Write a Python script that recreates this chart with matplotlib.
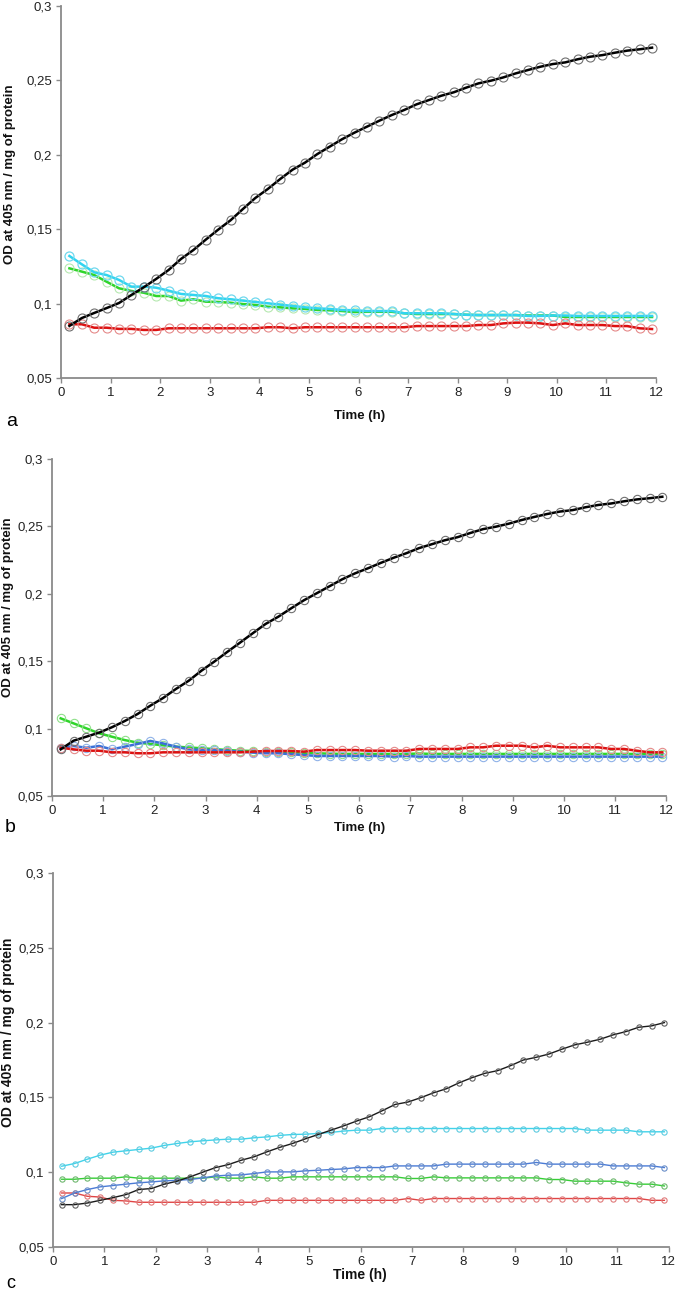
import matplotlib
matplotlib.use("Agg")
import matplotlib.pyplot as plt
from matplotlib import font_manager
import numpy as np

# ---------------- data ----------------
time_h = [0.17 + 0.25 * k for k in range(48)]

# panel a
a_black = [0.085, 0.0903, 0.0937, 0.097, 0.1004, 0.1058, 0.111, 0.1166, 0.1226, 0.130,
           0.136, 0.143, 0.1497, 0.156, 0.1636, 0.171, 0.177, 0.1837, 0.190, 0.1947,
           0.2005, 0.2055, 0.2105, 0.2149,
           0.2189, 0.2229, 0.2267, 0.2301, 0.2339, 0.2368, 0.2397, 0.242, 0.2451, 0.248,
           0.2498, 0.252, 0.2547, 0.257, 0.2592, 0.261, 0.2621, 0.2642, 0.2659, 0.267,
           0.2686, 0.27, 0.2709, 0.272]
a_cyan = [0.132, 0.1264, 0.121, 0.1192, 0.1159, 0.1114, 0.1114, 0.1107, 0.1087, 0.1065,
          0.1058, 0.1051, 0.1036, 0.1029, 0.102, 0.1011, 0.1002, 0.0993, 0.0984, 0.0975,
          0.0968, 0.0964, 0.0957, 0.0955,
          0.095, 0.095, 0.095, 0.0935, 0.0935, 0.0935, 0.0935, 0.093, 0.0925, 0.0923,
          0.0923, 0.0923, 0.0923, 0.0917, 0.0917, 0.092, 0.092, 0.0917, 0.0917, 0.0917,
          0.0917, 0.0917, 0.0917, 0.0917]
a_green = [0.1237, 0.1215, 0.1192, 0.1147, 0.1103, 0.1085, 0.1073, 0.1051, 0.1051, 0.102,
           0.1029, 0.1013, 0.1011, 0.1006, 0.0997, 0.0991, 0.0979, 0.0975, 0.0968, 0.0964,
           0.0957, 0.0955, 0.095, 0.0943,
           0.0945, 0.0945, 0.0945, 0.0935, 0.093, 0.093, 0.093, 0.093, 0.0925, 0.0923,
           0.0923, 0.0923, 0.0923, 0.092, 0.092, 0.092, 0.091, 0.091, 0.091, 0.091,
           0.091, 0.091, 0.091, 0.091]
a_red = [0.0861, 0.0861, 0.0838, 0.0838, 0.083, 0.083, 0.0823, 0.0823, 0.0834, 0.0834,
         0.0834, 0.0834, 0.0834, 0.0834, 0.0834, 0.0834, 0.0841, 0.0841, 0.0834, 0.0841,
         0.0841, 0.0841, 0.0841, 0.0841,
         0.0841, 0.0841, 0.0841, 0.0841, 0.0849, 0.0849, 0.0849, 0.0849, 0.0849, 0.0856,
         0.0856, 0.0867, 0.0872, 0.0872, 0.0867, 0.0856, 0.0867, 0.0856, 0.0856, 0.0856,
         0.0849, 0.0849, 0.0834, 0.0829]

# panel b
b_black = [0.0846, 0.091, 0.094, 0.097, 0.101, 0.1056, 0.1108, 0.117, 0.1227, 0.1294,
           0.1355, 0.143, 0.1497, 0.1568, 0.1637, 0.1707, 0.1776, 0.183, 0.1892, 0.1952,
           0.2004, 0.2056, 0.2108, 0.2152,
           0.2189, 0.2229, 0.2267, 0.2301, 0.2339, 0.2368, 0.2397, 0.242, 0.2451, 0.248,
           0.2498, 0.252, 0.2547, 0.257, 0.2592, 0.261, 0.2621, 0.2642, 0.2659, 0.267,
           0.2686, 0.27, 0.2709, 0.272]
b_green = [0.1076, 0.1039, 0.1002, 0.0965, 0.094, 0.0915, 0.0896, 0.0886, 0.0876, 0.0866,
           0.086, 0.0854, 0.0848, 0.0841, 0.0836, 0.0834, 0.0829, 0.0826, 0.0824, 0.0821,
           0.0817, 0.0814, 0.0812, 0.0812,
           0.0812, 0.0812, 0.0812, 0.0812, 0.0815, 0.0812, 0.0812, 0.0812, 0.0812, 0.0812,
           0.0812, 0.0812, 0.0812, 0.0812, 0.0812, 0.0812, 0.0812, 0.0812, 0.0812, 0.0812,
           0.0812, 0.0812, 0.0812, 0.081]
b_blue = [0.0858, 0.0871, 0.0858, 0.0871, 0.0846, 0.0866, 0.0886, 0.0908, 0.089, 0.0866,
          0.0846, 0.0841, 0.0841, 0.0836, 0.0829, 0.0822, 0.0817, 0.0817, 0.081, 0.0804,
          0.0797, 0.0797, 0.0797, 0.0797,
          0.0797, 0.0797, 0.0792, 0.0797, 0.0792, 0.0792, 0.0792, 0.0792, 0.0792, 0.0792,
          0.0792, 0.0792, 0.0792, 0.0792, 0.0792, 0.0792, 0.0792, 0.0792, 0.0792, 0.0792,
          0.0792, 0.0792, 0.0792, 0.0792]
b_red = [0.0858, 0.0846, 0.0836, 0.0836, 0.0824, 0.0824, 0.0817, 0.0817, 0.0824, 0.0824,
         0.0824, 0.0824, 0.0824, 0.0824, 0.0824, 0.0829, 0.0834, 0.0834, 0.0834, 0.0829,
         0.0841, 0.0841, 0.0841, 0.0841,
         0.0836, 0.0836, 0.0836, 0.0836, 0.0849, 0.0849, 0.0849, 0.0849, 0.0861, 0.0861,
         0.0873, 0.0873, 0.0873, 0.0861, 0.0873, 0.0861, 0.0861, 0.0861, 0.0861, 0.0849,
         0.0849, 0.0836, 0.0824, 0.0824]

# panel c
c_cyan = [0.104, 0.1058, 0.1087, 0.1114, 0.1134, 0.1143, 0.1152, 0.1161, 0.1179, 0.1192,
          0.1203, 0.121, 0.1216, 0.1221, 0.1221, 0.123, 0.1236, 0.1246, 0.1252, 0.1254,
          0.1259, 0.1266, 0.1275, 0.1281,
          0.1281, 0.1292, 0.1292, 0.1292, 0.1292, 0.1292, 0.1292, 0.1292, 0.1292, 0.1292,
          0.1292, 0.1292, 0.1292, 0.1292, 0.1292, 0.1292, 0.1292, 0.1281, 0.1281, 0.1281,
          0.1281, 0.127, 0.127, 0.127]
c_blue = [0.0824, 0.0861, 0.0884, 0.0902, 0.0911, 0.092, 0.0929, 0.0935, 0.0942, 0.0946,
          0.0951, 0.0962, 0.0975, 0.098, 0.0982, 0.0991, 0.1002, 0.1002, 0.1002, 0.1009,
          0.1013, 0.1018, 0.1022, 0.1031,
          0.1031, 0.1031, 0.1042, 0.1042, 0.1042, 0.1042, 0.1054, 0.1054, 0.1054, 0.1054,
          0.1054, 0.1054, 0.1054, 0.1065, 0.1054, 0.1054, 0.1054, 0.1054, 0.1054, 0.1042,
          0.1042, 0.1042, 0.1042, 0.1031]
c_green = [0.0953, 0.0953, 0.096, 0.096, 0.096, 0.0969, 0.096, 0.096, 0.096, 0.096,
           0.096, 0.096, 0.0969, 0.096, 0.096, 0.0969, 0.096, 0.096, 0.0969, 0.0969,
           0.0969, 0.0969, 0.0969, 0.0969,
           0.0969, 0.0969, 0.0969, 0.0958, 0.0958, 0.0969, 0.0962, 0.0962, 0.0962, 0.0962,
           0.0962, 0.0962, 0.0962, 0.0962, 0.0951, 0.0951, 0.094, 0.094, 0.094, 0.094,
           0.0929, 0.092, 0.092, 0.0908]
c_red = [0.0861, 0.0861, 0.0839, 0.0834, 0.0812, 0.0808, 0.0799, 0.0799, 0.0799, 0.0799,
         0.0799, 0.0799, 0.0799, 0.0799, 0.0799, 0.0799, 0.0812, 0.0812, 0.0812, 0.0812,
         0.0812, 0.0812, 0.0812, 0.0812,
         0.0812, 0.0812, 0.0812, 0.0824, 0.0812, 0.0824, 0.0824, 0.0824, 0.0824, 0.0824,
         0.0824, 0.0824, 0.0824, 0.0824, 0.0824, 0.0824, 0.0824, 0.0824, 0.0824, 0.0824,
         0.0824, 0.0824, 0.0812, 0.0812]
c_black = [0.0783, 0.0783, 0.0794, 0.0812, 0.083, 0.085, 0.0884, 0.0891, 0.092, 0.094,
           0.0969, 0.1, 0.1031, 0.1051, 0.108, 0.1103, 0.1136, 0.1166, 0.1192, 0.1223,
           0.1252, 0.1281, 0.131, 0.1342,
           0.1371, 0.1411, 0.1453, 0.1469, 0.1498, 0.1531, 0.1558, 0.1598, 0.1632, 0.1661,
           0.1679, 0.1712, 0.175, 0.1768, 0.179, 0.1822, 0.1851, 0.1869, 0.1889, 0.1918,
           0.194, 0.1969, 0.1978, 0.2]

y_ticks = [0.05, 0.1, 0.15, 0.2, 0.25, 0.3]
y_tick_labels = ["0,05", "0,1", "0,15", "0,2", "0,25", "0,3"]
x_ticks = list(range(13))
y_label = "OD at 405 nm / mg of protein"
x_label = "Time (h)"
panel_letters = ["a", "b", "c"]

# ---------------- styling ----------------
names = {f.name for f in font_manager.fontManager.ttflist}
FONT = "Liberation Sans" if "Liberation Sans" in names else "DejaVu Sans"
NARROW = "Liberation Sans Narrow" if "Liberation Sans Narrow" in names else FONT
plt.rcParams["font.family"] = [FONT, "DejaVu Sans"]

W, H = 675, 1290
fig = plt.figure(figsize=(W / 100, H / 100), dpi=100)
fig.patch.set_facecolor("white")

def px_axes(left, right, top, bottom):
    return fig.add_axes([left / W, 1 - bottom / H, (right - left) / W, (bottom - top) / H])

SPINE = "#8a8a8a"

def style_axes(ax, font, fs):
    for s in ["top", "right"]:
        ax.spines[s].set_visible(False)
    for s in ["left", "bottom"]:
        ax.spines[s].set_color(SPINE)
        ax.spines[s].set_linewidth(1.3)
    ax.set_xlim(0, 12)
    ax.set_ylim(0.05, 0.3)
    ax.set_xticks(x_ticks)
    ax.set_xticklabels([str(t) for t in x_ticks], fontfamily=font, fontsize=fs)
    ax.set_yticks(y_ticks)
    ax.set_yticklabels(y_tick_labels, fontfamily=font, fontsize=fs)
    ax.tick_params(direction="out", length=3.5, width=1.0, color=SPINE,
                   labelcolor="#222222", pad=3)
    ax.patch.set_alpha(0)

def series(ax, y, color, mec, lw, ms, mew, z):
    ax.plot(time_h, y, color=color, lw=lw, marker="o", ms=ms, mfc="none",
            mec=mec, mew=mew, zorder=z, clip_on=False)

# panel a
ax_a = px_axes(61, 656, 6, 378)
style_axes(ax_a, FONT, 9.5)
series(ax_a, a_green, "#2fd52a", "#b6e8b0", 1.8, 6.5, 0.8, 3)
series(ax_a, a_cyan, "#30d4f0", "#6fd8ee", 1.8, 6.5, 0.9, 4)
series(ax_a, a_red, "#dd1010", "#e58a8a", 1.8, 6.5, 0.8, 5)
series(ax_a, a_black, "#000000", "#707070", 1.8, 6.5, 0.8, 6)

# panel b
ax_b = px_axes(52, 666.4, 459, 796)
style_axes(ax_b, FONT, 9.5)
series(ax_b, b_green, "#2fd52a", "#8fe08a", 1.8, 6.0, 0.8, 3)
series(ax_b, b_blue, "#3a6fd6", "#8fb2e8", 1.8, 6.0, 0.8, 4)
series(ax_b, b_red, "#dd1010", "#e58a8a", 1.8, 6.0, 0.8, 5)
series(ax_b, b_black, "#000000", "#707070", 1.8, 6.0, 0.8, 6)

# panel c
ax_c = px_axes(53, 668.5, 873, 1247)
style_axes(ax_c, NARROW, 9.5)
series(ax_c, c_red, "#e04545", "#e07a7a", 1.0, 3.8, 0.8, 3)
series(ax_c, c_green, "#35cf35", "#6fb86f", 1.0, 3.8, 0.8, 4)
series(ax_c, c_blue, "#4a7bd6", "#6a8ec8", 1.0, 3.8, 0.8, 5)
series(ax_c, c_cyan, "#40d3ea", "#5ccbe0", 1.0, 3.8, 0.8, 6)
series(ax_c, c_black, "#1a1a1a", "#606060", 1.0, 3.8, 0.8, 7)

# labels
def fig_text(x, y, s, **kw):
    fig.text(x / W, 1 - y / H, s, **kw)

for (ylab_y, ylab_x, xlab_y, font, fs) in [
        (174, 10, 416, FONT, 9.5),
        (607, 8, 828, FONT, 9.5),
        (1032, 8, 1275, NARROW, 10)]:
    fig_text(ylab_x, ylab_y, y_label, rotation=90, ha="center", va="center",
             fontsize=fs, fontweight="bold", fontfamily=font, color="#111111")
    fig_text(360, xlab_y, x_label, ha="center", va="center", fontsize=fs,
             fontweight="bold", fontfamily=font, color="#111111")

fig_text(6, 422, panel_letters[0], ha="left", va="center", fontsize=14, fontfamily=FONT)
fig_text(5, 828, panel_letters[1], ha="left", va="center", fontsize=14, fontfamily=FONT)
fig_text(6, 1283, panel_letters[2], ha="left", va="center", fontsize=13, fontfamily=NARROW)

fig.savefig("out.png", dpi=100, facecolor="white")
